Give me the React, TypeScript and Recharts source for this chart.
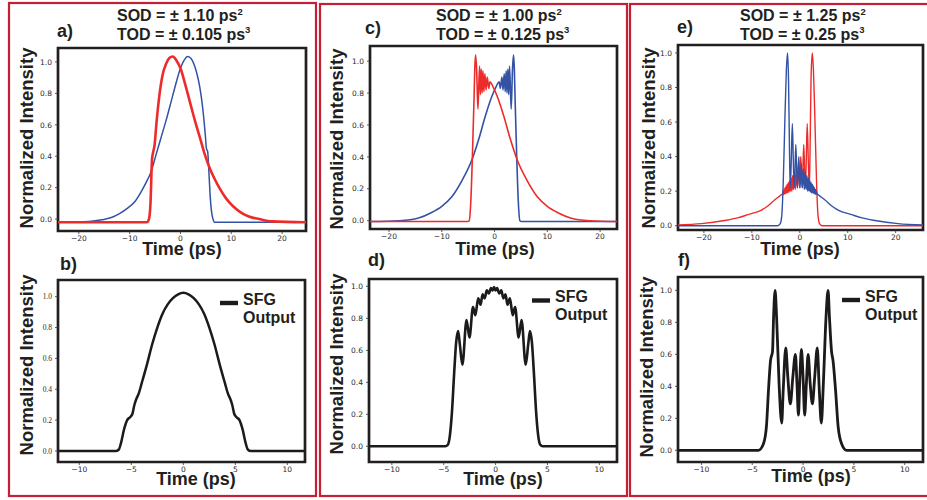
import React from 'react';
import { LineChart, Line, XAxis, YAxis, ReferenceArea } from 'recharts';

type P = [number, number];

// ---------- data (time in ps, normalized intensity) ----------
const aBlue: P[] = [
  [-24.5, -0.02], [-18, -0.015], [-15.5, -0.005], [-13.6, 0.01], [-12, 0.035], [-10.4, 0.07],
  [-9, 0.11], [-7.8, 0.17], [-6.8, 0.23], [-5.8, 0.3], [-4.8, 0.41], [-3.9, 0.51], [-2.9, 0.62],
  [-1.9, 0.74], [-1, 0.85], [0, 0.96], [0.7, 1.01], [1.4, 1.035], [2.0, 1.025], [2.6, 0.99],
  [3.2, 0.93], [3.8, 0.84], [4.4, 0.7], [4.9, 0.53], [5.1, 0.45], [5.35, 0.43], [5.55, 0.33],
  [5.8, 0.17], [6.1, 0.05], [6.4, 0.0], [6.7, -0.02], [24.7, -0.02],
];
const aRed: P[] = [
  [-24.5, -0.02], [-6.6, -0.02], [-6.2, 0.0], [-5.9, 0.1], [-5.6, 0.38], [-5.35, 0.43],
  [-5.1, 0.47], [-4.7, 0.62], [-4.1, 0.8], [-3.5, 0.92], [-2.8, 0.99], [-2.2, 1.025],
  [-1.5, 1.035], [-0.8, 1.01], [0, 0.96], [1, 0.85], [1.9, 0.74], [2.9, 0.62], [3.9, 0.51],
  [4.8, 0.41], [5.8, 0.32], [6.8, 0.25], [7.8, 0.19], [9, 0.13], [10.4, 0.08], [12, 0.04],
  [13.6, 0.015], [15.5, 0.0], [18, -0.015], [24.7, -0.02],
];
const bSfg: P[] = [
  [-12.1, 0], [-6.5, 0], [-6.2, 0.01], [-6.0, 0.05], [-5.7, 0.14], [-5.4, 0.2], [-5.1, 0.22],
  [-4.9, 0.24], [-4.7, 0.3], [-4.5, 0.34], [-4.3, 0.37], [-4.0, 0.44], [-3.5, 0.56], [-3.0, 0.69],
  [-2.5, 0.8], [-2.0, 0.89], [-1.5, 0.95], [-1.0, 0.99], [-0.5, 1.015], [0, 1.025], [0.5, 1.015],
  [1.0, 0.99], [1.5, 0.95], [2.0, 0.89], [2.5, 0.8], [3.0, 0.69], [3.5, 0.56], [4.0, 0.44],
  [4.3, 0.37], [4.5, 0.34], [4.7, 0.3], [4.9, 0.24], [5.1, 0.22], [5.4, 0.2], [5.7, 0.14],
  [6.0, 0.05], [6.2, 0.01], [6.5, 0], [11.8, 0],
];
const cBlue: P[] = [
  [-23.6, -0.005], [-18, 0], [-14.4, 0.017], [-12, 0.05], [-10, 0.09], [-8.1, 0.15], [-6.2, 0.25],
  [-4.3, 0.38], [-3, 0.51], [-1.8, 0.65], [-0.5, 0.78], [0.3, 0.84], [0.6, 0.86], [0.88, 0.87],
  [1.1, 0.83], [1.39, 0.9], [1.6, 0.82], [1.83, 0.92], [2.02, 0.81], [2.2, 0.94], [2.36, 0.8],
  [2.52, 0.95], [2.68, 0.79], [2.84, 0.97], [3.15, 0.7], [3.4, 0.95], [3.6, 1.04], [3.75, 0.95],
  [3.9, 0.75], [4.2, 0.4], [4.5, 0.12], [4.8, 0.0], [5.1, -0.005], [23.2, -0.005],
];
const cRed: P[] = [
  [-23.6, -0.005], [-5.1, -0.005], [-4.8, 0.0], [-4.5, 0.12], [-4.2, 0.4], [-3.9, 0.75],
  [-3.75, 0.95], [-3.6, 1.04], [-3.4, 0.95], [-3.15, 0.7], [-2.84, 0.97], [-2.68, 0.79],
  [-2.52, 0.95], [-2.36, 0.8], [-2.2, 0.94], [-2.02, 0.81], [-1.83, 0.92], [-1.6, 0.82],
  [-1.39, 0.9], [-1.1, 0.83], [-0.88, 0.87], [-0.6, 0.86], [-0.3, 0.84], [0.5, 0.78], [1.8, 0.65],
  [3, 0.51], [4.3, 0.38], [6.2, 0.25], [8.1, 0.15], [10, 0.09], [12, 0.05], [14.4, 0.017],
  [18, 0], [23.2, -0.005],
];
const dSfg: P[] = [
  [-12.2, 0], [-4.85, 0], [-4.6, 0.01], [-4.4, 0.07], [-4.2, 0.22], [-4.0, 0.45], [-3.8, 0.65],
  [-3.61, 0.72], [-3.45, 0.64], [-3.2, 0.51], [-2.8, 0.79], [-2.52, 0.68], [-2.18, 0.87],
  [-1.95, 0.82], [-1.68, 0.925], [-1.45, 0.885], [-1.25, 0.95], [-1.05, 0.925], [-0.85, 0.975],
  [-0.65, 0.955], [-0.45, 0.99], [-0.3, 0.975], [-0.15, 0.995], [0.0, 0.975], [0.15, 0.99],
  [0.35, 0.955], [0.55, 0.975], [0.75, 0.925], [0.95, 0.95], [1.15, 0.885], [1.38, 0.925],
  [1.65, 0.82], [1.88, 0.87], [2.22, 0.68], [2.5, 0.79], [2.9, 0.51], [3.15, 0.64], [3.31, 0.72],
  [3.5, 0.65], [3.7, 0.45], [3.9, 0.22], [4.1, 0.07], [4.3, 0.01], [4.55, 0], [11.7, 0],
];
const eBlue: P[] = [
  [-25.4, 0], [-4.6, 0], [-4.1, 0.01], [-3.75, 0.06], [-3.45, 0.25], [-3.1, 0.62], [-2.8, 0.9],
  [-2.55, 1.0], [-2.35, 0.85], [-2.15, 0.45], [-2.0, 0.22], [-1.8, 0.35], [-1.55, 0.59],
  [-1.35, 0.38], [-1.18, 0.22], [-1.0, 0.32], [-0.83, 0.47], [-0.65, 0.33], [-0.5, 0.22],
  [-0.35, 0.3], [-0.2, 0.4], [-0.07, 0.3], [0.05, 0.22], [0.18, 0.29], [0.3, 0.36], [0.42, 0.28],
  [0.52, 0.22], [0.64, 0.27], [0.75, 0.33], [0.85, 0.26], [0.95, 0.21], [1.05, 0.26], [1.15, 0.31],
  [1.24, 0.25], [1.33, 0.21], [1.42, 0.25], [1.5, 0.29], [1.58, 0.24], [1.66, 0.2], [1.74, 0.24],
  [1.82, 0.275], [1.89, 0.23], [1.96, 0.2], [2.03, 0.23], [2.1, 0.26], [2.17, 0.225], [2.24, 0.195],
  [2.3, 0.22], [2.37, 0.25], [2.44, 0.22], [2.5, 0.19], [2.56, 0.215], [2.62, 0.24], [2.68, 0.215],
  [2.74, 0.19], [2.8, 0.21], [2.85, 0.23], [2.9, 0.21], [2.96, 0.185], [3.02, 0.2], [3.07, 0.22],
  [3.12, 0.2], [3.17, 0.185], [3.22, 0.195], [3.27, 0.21], [3.32, 0.195], [3.36, 0.18], [3.41, 0.19],
  [3.45, 0.2], [3.6, 0.185], [3.8, 0.18], [4.5, 0.165], [5.2, 0.15], [6.6, 0.115], [8, 0.09],
  [10.8, 0.064], [13, 0.045], [15.7, 0.03], [20.5, 0.012], [25.7, 0.004],
];
const eRed: P[] = [
  [-25.4, 0.004], [-20.5, 0.012], [-15.7, 0.03], [-13, 0.045], [-10.8, 0.064], [-8, 0.09],
  [-6.6, 0.115], [-5.2, 0.15], [-4.5, 0.165], [-3.8, 0.18], [-3.6, 0.185], [-3.45, 0.2],
  [-3.41, 0.19], [-3.36, 0.18], [-3.32, 0.195], [-3.27, 0.21], [-3.22, 0.195], [-3.17, 0.185],
  [-3.12, 0.2], [-3.07, 0.22], [-3.02, 0.2], [-2.96, 0.185], [-2.9, 0.21], [-2.85, 0.23],
  [-2.8, 0.21], [-2.74, 0.19], [-2.68, 0.215], [-2.62, 0.24], [-2.56, 0.215], [-2.5, 0.19],
  [-2.44, 0.22], [-2.37, 0.25], [-2.3, 0.22], [-2.24, 0.195], [-2.17, 0.225], [-2.1, 0.26],
  [-2.03, 0.23], [-1.96, 0.2], [-1.89, 0.23], [-1.82, 0.275], [-1.74, 0.24], [-1.66, 0.2],
  [-1.58, 0.24], [-1.5, 0.29], [-1.42, 0.25], [-1.33, 0.21], [-1.24, 0.25], [-1.15, 0.31],
  [-1.05, 0.26], [-0.95, 0.21], [-0.85, 0.26], [-0.75, 0.33], [-0.64, 0.27], [-0.52, 0.22],
  [-0.42, 0.28], [-0.3, 0.36], [-0.18, 0.29], [-0.05, 0.22], [0.07, 0.3], [0.2, 0.4], [0.35, 0.3],
  [0.5, 0.22], [0.65, 0.33], [0.83, 0.47], [1.0, 0.32], [1.18, 0.22], [1.35, 0.38], [1.55, 0.59],
  [1.8, 0.35], [2.0, 0.22], [2.15, 0.45], [2.35, 0.85], [2.6, 1.0], [2.85, 0.9], [3.15, 0.62],
  [3.5, 0.25], [3.8, 0.06], [4.15, 0.01], [4.6, 0], [25.7, 0],
];
const fSfg: P[] = [
  [-12.3, 0], [-4.4, 0], [-3.9, 0.04], [-3.6, 0.15], [-3.4, 0.375], [-3.2, 0.56], [-3.0, 0.62],
  [-2.9, 0.83], [-2.75, 1.0], [-2.6, 0.83], [-2.36, 0.42], [-2.1, 0.17], [-1.95, 0.375],
  [-1.7, 0.64], [-1.5, 0.46], [-1.25, 0.29], [-1.0, 0.46], [-0.75, 0.6], [-0.6, 0.42],
  [-0.45, 0.22], [-0.33, 0.42], [-0.16, 0.63], [0, 0.46], [0.16, 0.22], [0.33, 0.42], [0.5, 0.6],
  [0.7, 0.42], [0.92, 0.29], [1.15, 0.46], [1.4, 0.64], [1.6, 0.375], [1.8, 0.17], [2.0, 0.42],
  [2.26, 0.83], [2.46, 1.0], [2.6, 0.83], [2.8, 0.62], [2.95, 0.56], [3.2, 0.375], [3.45, 0.15],
  [3.8, 0.04], [4.3, 0], [11.8, 0],
];

const wideTicks = [-20, -10, 0, 10, 20];
const narrowTicks = [-10, -5, 0, 5, 10];
const yTicks = [0, 0.2, 0.4, 0.6, 0.8, 1.0];

const titles = [
  { sod: 'SOD = \u00b1 1.10 ps', tod: 'TOD = \u00b1 0.105 ps' },
  { sod: 'SOD = \u00b1 1.00 ps', tod: 'TOD = \u00b1 0.125 ps' },
  { sod: 'SOD = \u00b1 1.25 ps', tod: 'TOD = \u00b1 0.25 ps' },
];

// ---------- styles ----------
const BLUE = '#3352a6';
const RED = '#ee2b2b';
const BLACK = '#1c1a1b';
const BOX = '#231f20';
const FRAME = '#c51f35';
const BOLD = "'Liberation Sans', Arial, sans-serif";
const SANS = "'DejaVu Sans', sans-serif";
const SERIF = "'Liberation Serif', serif";

const fmtX = (v: number) => (v < 0 ? '\u2212' + Math.abs(v) : String(v));
const fmtY = (v: number) => Number(v).toFixed(1);
const toData = (pts: P[]) => pts.map(([t, v]) => ({ t, v }));

const Y_W = 30, X_H = 20, M_T = 4, M_R = 4;

function XTick(props: any) {
  const { x, y, payload } = props;
  return (
    <text x={x} y={y} dy={6} textAnchor="middle" fontSize={7.5} fill="#2a2a2a" fontFamily={SANS}>
      {fmtX(payload.value)}
    </text>
  );
}

function makeYTick(font: string) {
  return function YTick(props: any) {
    const { x, y, payload } = props;
    return (
      <text x={x} y={y} dy={2.7} textAnchor="end" fontSize={7.5} fill="#2a2a2a" fontFamily={font}>
        {fmtY(payload.value)}
      </text>
    );
  };
}
const yTickSans = makeYTick(SANS);
const yTickSerif = makeYTick(SERIF);

interface Series { data: P[]; color: string; width: number }
interface PanelProps {
  plot: { x: number; y: number; w: number; h: number };
  xDomain: [number, number];
  yDomain: [number, number];
  xTicks: number[];
  series: Series[];
  serif?: boolean;
}

function Panel({ plot, xDomain, yDomain, xTicks, series, serif }: PanelProps) {
  const width = plot.w + Y_W + M_R;
  const height = plot.h + M_T + X_H;
  return (
    <div style={{ position: 'absolute', left: plot.x - Y_W, top: plot.y - M_T }}>
      <LineChart width={width} height={height} margin={{ top: M_T, right: M_R, bottom: 0, left: 0 }}>
        <XAxis
          dataKey="t" type="number" domain={xDomain} allowDataOverflow
          ticks={xTicks} interval={0} height={X_H} tickSize={3} tickMargin={1}
          tick={XTick} tickLine={{ stroke: '#333', strokeWidth: 0.8 }} axisLine={false}
        />
        <YAxis
          type="number" domain={yDomain} allowDataOverflow ticks={yTicks} interval={0}
          width={Y_W} tickSize={3} tickMargin={3}
          tick={serif ? yTickSerif : yTickSans}
          tickLine={{ stroke: '#333', strokeWidth: 0.8 }} axisLine={false}
        />
        {series.map((s, i) => (
          <Line
            key={i} data={toData(s.data)} dataKey="v" type="monotone"
            stroke={s.color} strokeWidth={s.width} dot={false} activeDot={false}
            isAnimationActive={false}
          />
        ))}
        <ReferenceArea
          x1={xDomain[0]} x2={xDomain[1]} y1={yDomain[0]} y2={yDomain[1]} ifOverflow="visible"
          fill="none" fillOpacity={0} stroke={BOX} strokeWidth={2.7}
        />
      </LineChart>
    </div>
  );
}

function Title({ x, sod, tod }: { x: number; sod: string; tod: string }) {
  return (
    <g fontFamily={BOLD} fontWeight="bold" fontSize={16} fill={BOX}>
      <text x={x} y={21}>
        {sod}
        <tspan fontSize={9.5} dy={-6.5}>2</tspan>
      </text>
      <text x={x} y={39.5}>
        {tod}
        <tspan fontSize={9.5} dy={-6.5}>3</tspan>
      </text>
    </g>
  );
}

function YLabel({ cx, cy }: { cx: number; cy: number }) {
  return (
    <text
      x={cx} y={cy} transform={`rotate(-90 ${cx} ${cy})`} textAnchor="middle" dominantBaseline="central"
      fontFamily={BOLD} fontWeight="bold" fontSize={18.5} fill={BOX}
    >
      Normalized Intensity
    </text>
  );
}

function XLabel({ cx, y }: { cx: number; y: number }) {
  return (
    <text x={cx} y={y} textAnchor="middle" fontFamily={BOLD} fontWeight="bold" fontSize={18} fill={BOX}>
      Time (ps)
    </text>
  );
}

function Tag({ x, y, s }: { x: number; y: number; s: string }) {
  return (
    <text x={x} y={y} fontFamily={BOLD} fontWeight="bold" fontSize={18} fill={BOX}>{s}</text>
  );
}

function SfgLegend({ x, y }: { x: number; y: number }) {
  return (
    <g fontFamily={BOLD} fontWeight="bold" fontSize={16} fill={BOX}>
      <rect x={x} y={y - 2.2} width={18} height={4.4} fill={BLACK} />
      <text x={x + 23} y={y + 1.5}>SFG</text>
      <text x={x + 23} y={y + 19.5}>Output</text>
    </g>
  );
}

export default function App() {
  return (
    <div style={{ position: 'absolute', left: 0, top: 0, width: 927, height: 500, background: '#fff', overflow: 'hidden' }}>
      <Panel
        plot={{ x: 58, y: 48, w: 248, h: 183 }} xDomain={[-24.1, 24.7]} yDomain={[-0.076, 1.089]}
        xTicks={wideTicks}
        series={[{ data: aBlue, color: BLUE, width: 1.5 }, { data: aRed, color: RED, width: 2.6 }]}
      />
      <Panel
        plot={{ x: 58, y: 280, w: 247, h: 182 }} xDomain={[-12.05, 11.7]} yDomain={[-0.071, 1.108]}
        xTicks={narrowTicks} serif
        series={[{ data: bSfg, color: BLACK, width: 2.5 }]}
      />
      <Panel
        plot={{ x: 370, y: 46, w: 247, h: 183 }} xDomain={[-23.6, 23.2]} yDomain={[-0.052, 1.095]}
        xTicks={wideTicks}
        series={[{ data: cBlue, color: BLUE, width: 1.6 }, { data: cRed, color: RED, width: 1.6 }]}
      />
      <Panel
        plot={{ x: 369, y: 279, w: 248, h: 183 }} xDomain={[-12.2, 11.7]} yDomain={[-0.098, 1.046]}
        xTicks={narrowTicks}
        series={[{ data: dSfg, color: BLACK, width: 2.6 }]}
      />
      <Panel
        plot={{ x: 678, y: 45, w: 245, h: 185 }} xDomain={[-25.4, 25.7]} yDomain={[-0.025, 1.046]}
        xTicks={wideTicks}
        series={[{ data: eRed, color: RED, width: 1.4 }, { data: eBlue, color: BLUE, width: 1.4 }]}
      />
      <Panel
        plot={{ x: 678, y: 277, w: 245, h: 185 }} xDomain={[-12.3, 11.8]} yDomain={[-0.073, 1.083]}
        xTicks={narrowTicks}
        series={[{ data: fSfg, color: BLACK, width: 2.8 }]}
      />
      <svg width={927} height={500} style={{ position: 'absolute', left: 0, top: 0, pointerEvents: 'none' }}>
        <rect x={9} y={3} width={307} height={493} fill="none" stroke={FRAME} strokeWidth={2.2} />
        <rect x={320} y={4} width={307} height={492} fill="none" stroke={FRAME} strokeWidth={2.2} />
        <rect x={630} y={4} width={310} height={492} fill="none" stroke={FRAME} strokeWidth={2.2} />

        <Title x={117} sod={titles[0].sod} tod={titles[0].tod} />
        <Title x={436} sod={titles[1].sod} tod={titles[1].tod} />
        <Title x={740} sod={titles[2].sod} tod={titles[2].tod} />

        <Tag x={57} y={37} s="a)" />
        <Tag x={60} y={270} s="b)" />
        <Tag x={365} y={34} s="c)" />
        <Tag x={368} y={266} s="d)" />
        <Tag x={677} y={33} s="e)" />
        <Tag x={678} y={266} s="f)" />

        <YLabel cx={26} cy={138} />
        <YLabel cx={26} cy={365} />
        <YLabel cx={336} cy={139} />
        <YLabel cx={336} cy={364} />
        <YLabel cx={648} cy={138} />
        <YLabel cx={646} cy={367} />

        <XLabel cx={182} y={255} />
        <XLabel cx={196} y={485} />
        <XLabel cx={495} y={255} />
        <XLabel cx={503} y={485} />
        <XLabel cx={800} y={255} />
        <XLabel cx={811} y={482} />

        <SfgLegend x={220} y={303} />
        <SfgLegend x={532} y={300.5} />
        <SfgLegend x={842} y={300} />
      </svg>
    </div>
  );
}
